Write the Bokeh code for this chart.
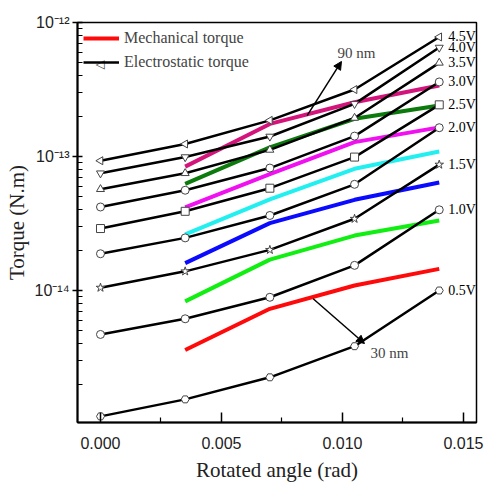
import math
from bokeh.plotting import figure
from bokeh.embed import file_html
from bokeh.resources import INLINE
from bokeh.models import (FixedTicker, NumeralTickFormatter, CustomJSTickFormatter,
                          Legend, LegendItem, Arrow, NormalHead, Label, ColumnDataSource)
from bokeh.core.properties import value

# ---------------- data ----------------
angle = [0.0, 0.0035, 0.007, 0.0105, 0.014]
mech_angle = [0.0035, 0.007, 0.0105, 0.014]

volt_labels = ["4.5V", "4.0V", "3.5V", "3.0V", "2.5V", "2.0V", "1.5V", "1.0V", "0.5V"]
es_45 = [9.3e-14, 1.24e-13, 1.86e-13, 3.16e-13, 7.8e-13]
es_40 = [7.5e-14, 9.9e-14, 1.41e-13, 2.47e-13, 6.5e-13]
es_35 = [5.7e-14, 7.5e-14, 1.12e-13, 1.94e-13, 5.0e-13]
es_30 = [4.2e-14, 5.6e-14, 8.2e-14, 1.42e-13, 3.6e-13]
es_25 = [2.9e-14, 3.9e-14, 5.8e-14, 9.9e-14, 2.43e-13]
es_20 = [1.88e-14, 2.47e-14, 3.63e-14, 6.2e-14, 1.64e-13]
es_15 = [1.05e-14, 1.39e-14, 2.01e-14, 3.43e-14, 8.7e-14]
es_10 = [4.7e-15, 6.15e-15, 8.9e-15, 1.54e-14, 4.0e-14]
es_05 = [1.15e-15, 1.54e-15, 2.25e-15, 3.84e-15, 1.0e-14]

mech_red = [3.6e-15, 7.3e-15, 1.09e-14, 1.45e-14]
mech_green = [8.3e-15, 1.7e-14, 2.57e-14, 3.33e-14]
mech_blue = [1.6e-14, 3.18e-14, 4.75e-14, 6.4e-14]
mech_cyan = [2.62e-14, 4.78e-14, 8.1e-14, 1.09e-13]
mech_magenta = [4.18e-14, 7.4e-14, 1.28e-13, 1.65e-13]
mech_dkgreen = [6.25e-14, 1.17e-13, 1.91e-13, 2.4e-13]
mech_crimson = [8.4e-14, 1.75e-13, 2.54e-13, 3.39e-13]

x_ticks = [0.0, 0.005, 0.010, 0.015]

# ---------------- styles ----------------
es_series = [es_45, es_40, es_35, es_30, es_25, es_20, es_15, es_10, es_05]
es_markers = [("triangle", math.pi / 2), ("inverted_triangle", 0), ("triangle", 0),
              ("circle", 0), ("square", 0), ("circle", 0), ("star", 0), ("circle", 0), ("hex", 0)]
mech_series = [mech_red, mech_green, mech_blue, mech_cyan, mech_magenta, mech_dkgreen, mech_crimson]
mech_colors = ["#ff0a0a", "#11ee11", "#0a0aff", "#22f0f0", "#f010f0", "#0c7a0c", "#d4147a"]

SERIF = "Liberation Serif"
SANS = "Liberation Sans"

p = figure(width=486, height=494, y_axis_type="log",
           x_range=(-0.00095, 0.01554), y_range=(1.035e-15, 1e-12),
           output_backend="svg", toolbar_location=None,
           min_border_left=77, min_border_right=10, min_border_top=22, min_border_bottom=72)

p.background_fill_color = "white"
p.border_fill_color = "white"
p.grid.visible = False
p.outline_line_color = "black"
p.outline_line_width = 1.5

# mechanical torque lines
mech_renderers = []
for ys, col in zip(mech_series, mech_colors):
    r = p.line(mech_angle, ys, line_color=col, line_width=4)
    mech_renderers.append(r)

# electrostatic torque lines
es_line_r = []
es_mark_r = []
for ys, (mk, ang) in zip(es_series, es_markers):
    lr = p.line(angle, ys, line_color="black", line_width=2.5)
    sz = 8 if mk != "star" else 9
    mr = p.scatter(angle, ys, marker=mk, angle=ang, size=sz, fill_color="white",
                   line_color="#444444", line_width=1)
    es_line_r.append(lr)
    es_mark_r.append(mr)

# voltage labels at line ends
lab_src = ColumnDataSource(dict(x=[angle[-1]] * len(es_series),
                                y=[s[-1] for s in es_series],
                                t=volt_labels))
p.text(x="x", y="y", text="t", source=lab_src, x_offset=9, text_baseline="middle",
       text_align="left", text_font=value(SERIF), text_font_size="14px", text_color="black")

# annotations
arrow90 = dict(xs=0.00854, ys=2.02e-13, xe=0.00996, ye=5.12e-13)
arrow30 = dict(xs=0.00879, ys=8.67e-15, xe=0.01091, ye=4.02e-15)
p.add_layout(Arrow(end=NormalHead(size=8, fill_color="black", line_color="black"),
                   x_start=arrow90["xs"], y_start=arrow90["ys"],
                   x_end=arrow90["xe"], y_end=arrow90["ye"], line_width=1.5))
p.add_layout(Arrow(end=NormalHead(size=8, fill_color="black", line_color="black"),
                   x_start=arrow30["xs"], y_start=arrow30["ys"],
                   x_end=arrow30["xe"], y_end=arrow30["ye"], line_width=1.5))
p.add_layout(Label(x=0.01058, y=5.97e-13, text="90 nm", text_align="center",
                   text_baseline="middle", text_font=SERIF, text_font_size="15px"))
p.add_layout(Label(x=0.01194, y=3.44e-15, text="30 nm", text_align="center",
                   text_baseline="middle", text_font=SERIF, text_font_size="15px"))

# legend
legend = Legend(items=[LegendItem(label="Mechanical torque", renderers=[mech_renderers[0]]),
                       LegendItem(label="Electrostatic torque", renderers=[es_line_r[0]])],
                location="top_left", margin=6, padding=11, spacing=4,
                glyph_width=36, glyph_height=20, label_height=20, label_standoff=5,
                label_text_font=SERIF, label_text_font_size="16px",
                border_line_color=None, background_fill_alpha=0)
p.add_layout(legend)
# left-pointing triangle marker on the legend's electrostatic sample
p.add_layout(Label(x=0.0, y=4.94e-13, text="\u25c1", text_align="center",
                   text_baseline="middle", text_font="DejaVu Sans", text_font_size="12px",
                   background_fill_color="white"))

# axes
p.xaxis.ticker = FixedTicker(ticks=x_ticks, minor_ticks=[0.0025, 0.0075, 0.0125])
p.xaxis.formatter = NumeralTickFormatter(format="0.000")
minor_y = [k * 10.0 ** n for n in range(-15, -12) for k in range(2, 10)]
p.yaxis.ticker = FixedTicker(ticks=[1e-15, 1e-14, 1e-13, 1e-12], minor_ticks=minor_y)
p.yaxis.formatter = CustomJSTickFormatter(code="""
const e = Math.round(Math.log10(tick));
const sup = {'-':'\u207b','0':'\u2070','1':'\u00b9','2':'\u00b2','3':'\u00b3','4':'\u2074',
             '5':'\u2075','6':'\u2076','7':'\u2077','8':'\u2078','9':'\u2079'};
return '10' + String(e).split('').map(c => sup[c]).join('');
""")

for ax in (p.xaxis[0], p.yaxis[0]):
    ax.axis_line_color = "black"
    ax.axis_line_width = 2
    ax.major_tick_line_color = "black"
    ax.minor_tick_line_color = "black"
    ax.major_tick_line_width = 1.5
    ax.minor_tick_line_width = 1.2
    ax.major_label_text_font = SANS
    ax.major_label_text_font_size = "16px"
    ax.major_label_text_color = "#222222"
    ax.axis_label_text_font = SERIF
    ax.axis_label_text_font_style = "normal"
    ax.axis_label_text_font_size = "21px"
    ax.axis_label_text_color = "#222222"

p.xaxis.major_tick_in = 10
p.xaxis.major_tick_out = 0
p.xaxis.minor_tick_in = 5
p.xaxis.minor_tick_out = 0
p.xaxis.major_label_standoff = 14
p.xaxis.axis_label = "Rotated angle (rad)"
p.xaxis.axis_label_standoff = 6

p.yaxis.major_tick_in = 5
p.yaxis.major_tick_out = 5
p.yaxis.minor_tick_in = 5
p.yaxis.minor_tick_out = 0
p.yaxis.major_label_standoff = 3
p.yaxis.axis_label = "Torque (N.m)"
p.yaxis.axis_label_standoff = 3

open("out.html", "w").write(file_html(p, INLINE))
